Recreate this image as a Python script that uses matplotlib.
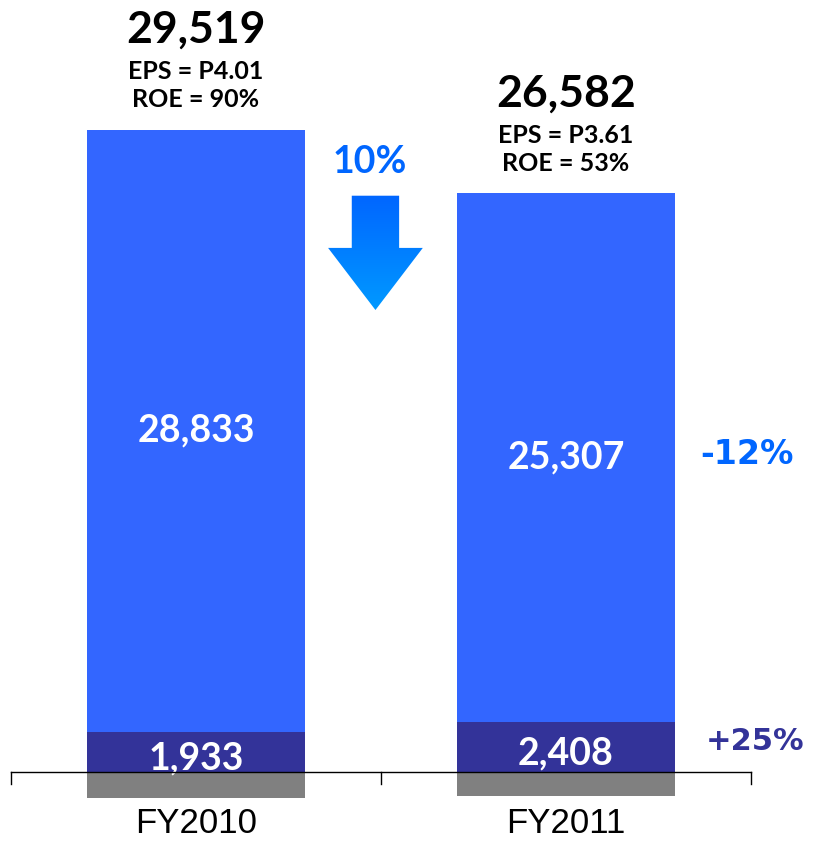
import numpy as np
import matplotlib.pyplot as plt
from matplotlib.patches import Polygon

years = ['FY2010', 'FY2011']
core = [28833, 25307]
other = [1933, 2408]
adjust = [-1247, -1133]
totals = [29519, 26582]
eps = ['EPS = P4.01', 'EPS = P3.61']
roe = ['ROE = 90%', 'ROE = 53%']
change_total = '10%'
change_core = '-12%'
change_other = '+25%'

c_core = '#3366FF'
c_other = '#333399'
c_adj = '#808080'
c_pct = '#0066FF'

fig = plt.figure(figsize=(8.13, 8.42), dpi=100)
ax = fig.add_axes([0, 0, 1, 1])
px_per_unit = 0.02088  # pixels per value unit
ax.set_ylim(-70 / px_per_unit, 772 / px_per_unit)
ax.set_xlim(-0.5 - 11 / 370, -0.5 + 802 / 370)
ax.axis('off')

x = np.arange(len(years))
w = 0.59
ax.bar(x, adjust, w, color=c_adj)
ax.bar(x, other, w, color=c_other)
ax.bar(x, core, w, bottom=other, color=c_core)

font = 'Lato'
for i in x:
    top = core[i] + other[i]
    ax.text(i, other[i] + core[i] / 2, f'{core[i]:,}', ha='center', va='center',
            color='white', fontsize=27, fontweight='bold', family=font)
    ax.text(i, other[i] / 2 - 300, f'{other[i]:,}', ha='center', va='center',
            color='white', fontsize=27, fontweight='bold', family=font)
    ax.text(i, top + 4780, f'{totals[i]:,}', ha='center', va='center',
            color='black', fontsize=32, fontweight='bold', family=font)
    ax.text(i, top + 2790, eps[i], ha='center', va='center',
            color='black', fontsize=18, fontweight='bold', family=font)
    ax.text(i, top + 1420, roe[i], ha='center', va='center',
            color='black', fontsize=18, fontweight='bold', family=font)
    ax.text(i, -2480, years[i], ha='center', va='center',
            color='black', fontsize=25, family='Liberation Sans')

# axis line with category ticks
ax.plot([-0.5, 1.5], [0, 0], color='black', lw=1, zorder=5)
tick_len = 12 / px_per_unit
for t in [-0.5, 0.5, 1.5]:
    ax.plot([t, t], [0, -tick_len], color='black', lw=1, zorder=5)

# change labels
ax.text(0.47, 29200, change_total, ha='center', va='center', color=c_pct,
        fontsize=27, fontweight='bold', family=font)
ax.text(1.49, 15200, change_core, ha='center', va='center', color=c_pct,
        fontsize=24, fontweight='bold', family='DejaVu Sans')
ax.text(1.51, 1450, change_other, ha='center', va='center', color=c_other,
        fontsize=22, fontweight='bold', family='DejaVu Sans')

# gradient down arrow
ax_w, ah_w = 0.064, 0.128
y_top, y_head, y_tip = 27600, 25100, 22126
xc = 0.485
verts = [(xc - ax_w, y_top), (xc + ax_w, y_top), (xc + ax_w, y_head),
         (xc + ah_w, y_head), (xc, y_tip), (xc - ah_w, y_head),
         (xc - ax_w, y_head)]
arrow = Polygon(verts, closed=True, facecolor='none', edgecolor='none')
ax.add_patch(arrow)
grad = np.linspace(0, 1, 256).reshape(-1, 1)
c1 = np.array([0x00, 0x66, 0xFF]) / 255
c2 = np.array([0x00, 0x99, 0xFF]) / 255
img = c1 + (c2 - c1) * grad[:, :, None]
im = ax.imshow(img, extent=[xc - ah_w, xc + ah_w, y_tip, y_top],
               aspect='auto', origin='upper', zorder=3)
im.set_clip_path(arrow)

fig.savefig('out.png', dpi=100)
